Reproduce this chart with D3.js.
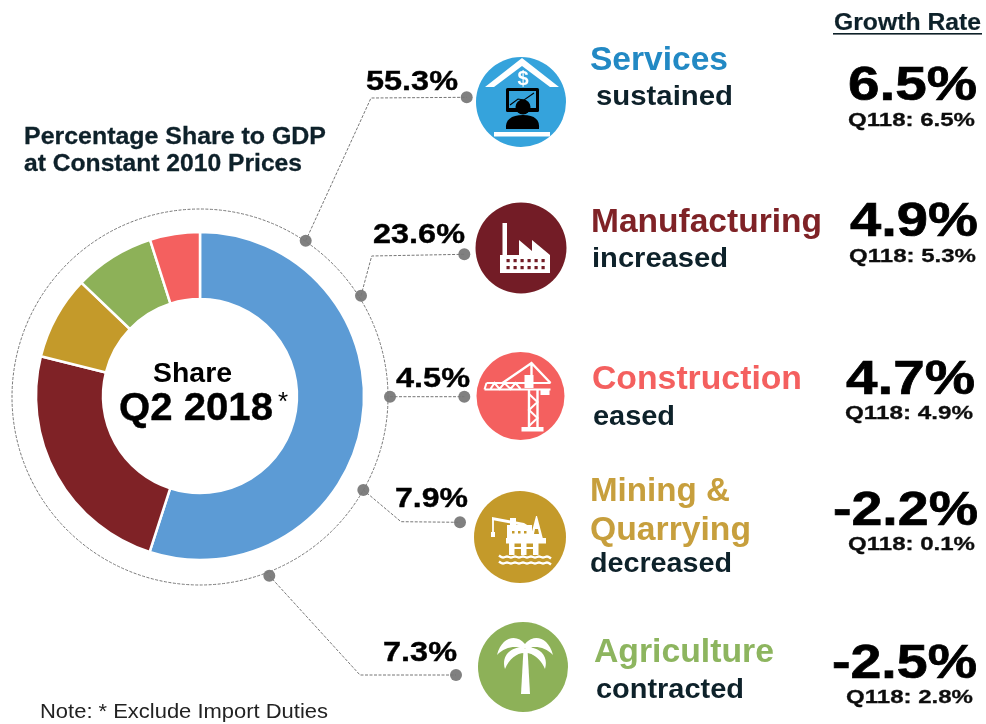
<!DOCTYPE html>
<html>
<head>
<meta charset="utf-8">
<title>Share to GDP Q2 2018</title>
<style>
html, body { margin: 0; padding: 0; background: #fff; }
svg { display: block; }
text { font-family: "Liberation Sans", Arial, sans-serif; font-weight: bold; }
.leader { fill: none; stroke: #777; stroke-width: 1px; stroke-dasharray: 3 1.5; }
.ring { fill: none; stroke: #777; stroke-width: 1px; stroke-dasharray: 3 1.5; }
.dot { fill: #808080; }
</style>
</head>
<body>
<script src="https://d3js.org/d3.v7.min.js"></script>
<script>
// values as printed
var sectors = ["Services", "Manufacturing", "Construction", "Mining & Quarrying", "Agriculture"];
var shares = [55.3, 23.6, 4.5, 7.9, 7.3];
var outlook = ["sustained", "increased", "eased", "decreased", "contracted"];
var growth = [6.5, 4.9, 4.7, -2.2, -2.5];
var prevGrowth = [6.5, 5.3, 4.9, 0.1, 2.8];

// the slices in the picture do not quite add up from the labels, so these are read off the ring
var pieOrder = ["Services", "Manufacturing", "Mining & Quarrying", "Agriculture", "Construction"];
var sliceShares = [54.7, 23.8, 8.2, 7.9, 4.9];

var sectorColors = ["#5b9bd5", "#7f2328", "#c49a2c", "#8db158", "#f4615f"]; // pie order
var iconColors = ["#35a3dc", "#731f25", "#f4615f", "#c49a2c", "#8db158"];
var nameColors = ["#2289c4", "#7f2328", "#f4615f", "#c79f3c", "#8db55f"];

var width = 986, height = 724;
var cx = 200, cy = 396;

// one row per sector, page coordinates
var rows = [
  { icon: [521, 102, 45], names: [[590, 728, 70]], sub: [596, 733, 105], pct: [366, 458, 90], rate: [848, 977, 100], prev: [848, 975, 126],
    leader: [[305.7, 240.7], [371, 98], [466.7, 97.3]] },
  { icon: [521, 248, 45.5], names: [[591, 822, 232]], sub: [592, 728, 267], pct: [373, 465, 243], rate: [850, 978, 236], prev: [849, 976, 262],
    leader: [[361, 295.7], [371.7, 256], [464.3, 254.3]] },
  { icon: [520.5, 396, 44], names: [[592, 802, 389]], sub: [593, 675, 425], pct: [396, 470, 387], rate: [846, 975, 393.5], prev: [845, 973, 418.5],
    leader: [[390, 396.7], [464.3, 396.7]] },
  { icon: [520, 537, 46], names: [[590, 730, 501], [590, 751, 540]], sub: [590, 732, 572], pct: [395, 468, 507], rate: [833, 978, 525], prev: [848, 975, 550],
    leader: [[363.3, 490], [401, 521.7], [460, 522.3]] },
  { icon: [523, 667, 45], names: [[594, 774, 662]], sub: [596, 744, 698], pct: [383, 457, 661], rate: [832, 977, 677.5], prev: [846, 973, 702.5],
    leader: [[269.3, 575.7], [360, 675], [456, 675]] }
];

var svg = d3.select("body").append("svg")
    .attr("width", width)
    .attr("height", height);

// the reference is a slightly soft screenshot
svg.append("defs").append("filter")
    .attr("id", "soft")
  .append("feGaussianBlur")
    .attr("stdDeviation", 0.35);

var root = svg.append("g").attr("filter", "url(#soft)");

function label(g, str, x0, x1, base, size, color, heavy) {
  return g.append("text")
      .attr("x", x0)
      .attr("y", base)
      .attr("textLength", x1 - x0)
      .attr("lengthAdjust", "spacingAndGlyphs")
      .style("font-size", size + "px")
      .style("fill", color)
      .style("stroke", heavy ? color : "none")
      .style("stroke-width", heavy || 0)
      .text(str);
}

// donut
var pie = d3.pie().sort(null).value(function(d) { return d; });
var arc = d3.arc().innerRadius(97).outerRadius(164);

svg.append("circle")
    .attr("class", "ring")
    .attr("cx", cx)
    .attr("cy", cy + 1)
    .attr("r", 188);

root.append("g")
    .attr("transform", "translate(" + cx + "," + cy + ")")
  .selectAll("path")
    .data(pie(sliceShares))
  .enter().append("path")
    .attr("d", arc)
    .attr("fill", function(d, i) { return sectorColors[i]; })
    .attr("stroke", "#fff")
    .attr("stroke-width", 2.5);

// leaders
var line = d3.line();
svg.selectAll(".leader")
    .data(rows)
  .enter().append("path")
    .attr("class", "leader")
    .attr("d", function(d) { return line(d.leader); });

rows.forEach(function(r) {
  [r.leader[0], r.leader[r.leader.length - 1]].forEach(function(p) {
    root.append("circle").attr("class", "dot").attr("cx", p[0]).attr("cy", p[1]).attr("r", 6);
  });
});

// icons, drawn around the centre of each disc
function iconServices(g, c) {
  g.append("path").attr("fill", "#fff")
      .attr("d", "M1,-44 L38,-15 L29,-15 L1,-36 L-27,-15 L-36,-15 Z");
  g.append("text").attr("x", 2).attr("y", -17).attr("text-anchor", "middle")
      .style("font-size", "20px").style("fill", "#fff").text("$");
  g.append("rect").attr("x", -15).attr("y", -14).attr("width", 33).attr("height", 24).attr("fill", "#000").attr("rx", 1.5);
  g.append("rect").attr("x", -12).attr("y", -11).attr("width", 27).attr("height", 17).attr("fill", c);
  g.append("path").attr("fill", "none").attr("stroke", "#000").attr("stroke-width", 1.1)
      .attr("d", "M-11,3 L-3,-3 L3,-2 L13,-9");
  g.append("circle").attr("cx", 2).attr("cy", 5).attr("r", 7.5).attr("fill", "#000");
  g.append("path").attr("fill", "#000")
      .attr("d", "M-15,27 C-16,18 -10,13 2,13 C14,13 19,18 18,27 Z");
  g.append("rect").attr("x", -27).attr("y", 30).attr("width", 56).attr("height", 4.5).attr("fill", "#fff");
}

function iconFactory(g, c) {
  g.append("path").attr("fill", "#fff")
      .attr("d", "M-21,25 V7 H-18.5 V-25 H-14 V7 H-2 V-8 L11,3 V-8 L29,7 V25 Z");
  d3.range(6).forEach(function(i) {
    [11, 18].forEach(function(y) {
      g.append("rect").attr("x", -14.5 + i * 7).attr("y", y).attr("width", 3.2).attr("height", 3.2).attr("fill", c);
    });
  });
}

function iconCrane(g, c) {
  var s = g.append("g").attr("fill", "none").attr("stroke", "#fff").attr("stroke-width", 2);
  s.append("path").attr("d", "M-34,-13 L30,-13 M-36,-6.5 L30,-6.5 M-36,-6.5 L-34,-13");
  s.append("path").attr("d", "M-30,-7 L-26,-13 L-21,-7 L-16,-13 L-10,-7 L-5,-13 L0,-7");
  s.append("path").attr("stroke-width", 2.4).attr("d", "M-18,-13 L11,-33 L30,-13 M11,-33 L11,-20");
  s.append("path").attr("stroke-width", 2.4).attr("d", "M8.5,-6 V31 M17,-6 V31");
  s.append("path").attr("d", "M8.5,-2 L17,6 L8.5,14 L17,22 L8.5,30");
  g.append("rect").attr("x", 4).attr("y", -21).attr("width", 9).attr("height", 13).attr("fill", "#fff");
  g.append("rect").attr("x", 20).attr("y", -6).attr("width", 9).attr("height", 5).attr("fill", "#fff");
  g.append("rect").attr("x", 1).attr("y", 31).attr("width", 22).attr("height", 4.5).attr("fill", "#fff");
}

function iconRig(g, c) {
  var white = g.append("g").attr("fill", "#fff");
  white.append("rect").attr("x", -13).attr("y", -12).attr("width", 25).attr("height", 14);   // cabin
  white.append("rect").attr("x", -10).attr("y", -19).attr("width", 6).attr("height", 8);     // crane post
  white.append("path").attr("d", "M-28,-20 L4,-14 L12,-9 V-7 L4,-11 L-28,-17 Z");            // crane arm
  white.append("path").attr("d", "M16,-21 L17,-21 L23,2 H10 Z");                             // derrick
  white.append("rect").attr("x", -14).attr("y", 1).attr("width", 40).attr("height", 5.5);    // deck
  [-11, 1, 13].forEach(function(x) {
    white.append("rect").attr("x", x).attr("y", 6).attr("width", 5.5).attr("height", 12);    // legs
  });
  white.append("rect").attr("x", -11).attr("y", 10).attr("width", 29).attr("height", 2);
  g.append("path").attr("fill", "none").attr("stroke", "#fff").attr("stroke-width", 1.8)
      .attr("d", "M-27,-19 V-3");
  white.append("rect").attr("x", -29).attr("y", -5).attr("width", 4).attr("height", 5);
  var wave = d3.line().curve(d3.curveBasis);
  [20, 26].forEach(function(y) {
    var pts = d3.range(-21, 32, 4).map(function(x, i) { return [x, y + (i % 2 ? 1.5 : -1.5)]; });
    g.append("path").attr("fill", "none").attr("stroke", "#fff").attr("stroke-width", 2.4).attr("d", wave(pts));
  });
  g.append("g").attr("fill", c).selectAll("rect")
      .data([-8, -2, 4])
    .enter().append("rect")
      .attr("x", function(d) { return d; }).attr("y", -6).attr("width", 2.5).attr("height", 2.5);
  g.append("path").attr("fill", c).attr("d", "M15,-8 L18,-8 L19,-3 H14 Z");
}

function iconPalm(g, c) {
  g.append("path").attr("fill", "#fff").attr("d", "M0.5,-18 H4.5 L7,27 H-2 Z");
  var fronds = "M2,-23 C-6,-33 -21,-31 -26,-12 C-18,-20 -8,-22 2,-18 Z M1,-20 C-12,-20 -22,-12 -18,2 C-14,-8 -6,-14 1,-14 Z";
  g.append("path").attr("fill", "#fff").attr("d", fronds);
  g.append("path").attr("fill", "#fff").attr("transform", "translate(4,0) scale(-1,1)").attr("d", fronds);
}

var iconFns = [iconServices, iconFactory, iconCrane, iconRig, iconPalm];

rows.forEach(function(r, i) {
  var g = root.append("g").attr("transform", "translate(" + r.icon[0] + "," + r.icon[1] + ")");
  g.append("circle").attr("r", r.icon[2]).attr("fill", iconColors[i]);
  iconFns[i](g, iconColors[i]);

  var nameParts = sectors[i] == "Mining & Quarrying" ? ["Mining &", "Quarrying"] : [sectors[i]];
  nameParts.forEach(function(n, j) {
    var p = r.names[j];
    label(root, n, p[0], p[1], p[2], 33, nameColors[i]);
  });
  label(root, outlook[i], r.sub[0], r.sub[1], r.sub[2], 27, "#10202a");
  label(root, shares[i].toFixed(1) + "%", r.pct[0], r.pct[1], r.pct[2], 28, "#000", 0.4);
  label(root, growth[i].toFixed(1) + "%", r.rate[0], r.rate[1], r.rate[2], 49, "#000", 0.7);
  label(root, "Q118: " + prevGrowth[i].toFixed(1) + "%", r.prev[0], r.prev[1], r.prev[2], 19, "#111", 0.3);
});

// headings and notes
label(root, "Growth Rate", 834, 981, 30, 24, "#10202a", 0.2);
root.append("rect").attr("x", 833).attr("y", 33).attr("width", 149).attr("height", 1.6).attr("fill", "#10202a");

label(root, "Percentage Share to GDP", 24, 326, 144, 24, "#10202a", 0.3);
label(root, "at Constant 2010 Prices", 24, 302, 171, 24, "#10202a", 0.3);

label(root, "Share", 153, 232, 382, 27, "#000");
label(root, "Q2 2018", 119, 273, 420, 38, "#000", 0.4);
root.append("text").attr("x", 278).attr("y", 410).style("font-size", "26px").style("font-weight", "normal").text("*");

label(root, "Note: * Exclude Import Duties", 40, 328, 718, 20, "#222").style("font-weight", "normal");
</script>
</body>
</html>
